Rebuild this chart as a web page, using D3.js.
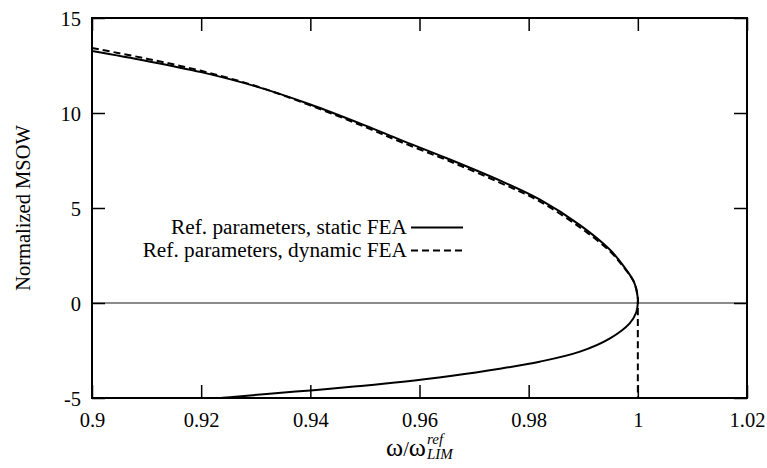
<!DOCTYPE html>
<html>
<head>
<meta charset="utf-8">
<script src="https://cdn.jsdelivr.net/npm/d3@7"></script>
<style>
body{margin:0;background:#fff}
</style>
</head>
<body>
<svg id="chart" width="767" height="468"></svg>
<script>
// static FEA, read along the curve from upper left round the nose to lower left
var staticX=[0.9,0.91,0.92,0.93,0.94,0.95,0.9564,0.965,0.9747,0.982,0.9894,0.9949,0.9975,0.9993,0.99995,1.0,0.9997,0.9985,0.9949,0.9894,0.982,0.9741,0.966,0.957,0.948,0.94,0.932,0.9247,0.9235]
var staticY=[13.26,12.74,12.15,11.4,10.45,9.35,8.6,7.62,6.45,5.45,4.1,2.8,1.9,1.1,0.35,0,-0.5,-1.07,-1.86,-2.56,-3.09,-3.49,-3.83,-4.15,-4.4,-4.6,-4.79,-4.97,-5.0]
// dynamic FEA: upper branch, then straight down at x=1
var dynX=[0.9,0.91,0.92,0.93,0.94,0.95,0.9564,0.965,0.9747,0.982,0.9894,0.9949,0.9975,0.9993,1.0,1.0,1.0]
var dynY=[13.42,12.86,12.22,11.42,10.4,9.27,8.5,7.52,6.34,5.35,3.98,2.72,1.85,1.1,0.3,0,-5]
var xTicks=[0.9,0.92,0.94,0.96,0.98,1.0,1.02]
var yTicks=[-5,0,5,10,15]
var seriesNames=["Ref. parameters, static FEA","Ref. parameters, dynamic FEA"]

var W=767,H=468
var m={l:92,t:18,r:20,b:70}
var FONT='"Liberation Serif","Times New Roman",Times,serif'
var fs=20.5
var svg=d3.select("#chart")
var x=d3.scaleLinear().domain([0.9,1.02]).range([m.l,W-m.r])
var y=d3.scaleLinear().domain([-5,15]).range([H-m.b,m.t])

// zero line
svg.append("line")
.attr("x1",x(0.9)).attr("x2",x(1.02))
.attr("y1",y(0)).attr("y2",y(0))
.attr("stroke","#666").attr("stroke-width",1.5)

var line=d3.line().x(d=>x(d[0])).y(d=>y(d[1])).curve(d3.curveCatmullRom)
var sPts=staticX.map((v,i)=>[v,staticY[i]])
var dPts=dynX.map((v,i)=>[v,dynY[i]])

svg.append("path").attr("d",line(sPts))
.attr("fill","none").attr("stroke","#000").attr("stroke-width",2)
svg.append("path").attr("d",line(dPts))
.attr("fill","none").attr("stroke","#000").attr("stroke-width",2)
.attr("stroke-dasharray","7,4")

// axes: ticks inward, mirrored on top/right
function styleAx(g){
	g.attr("font-family",FONT).attr("font-size",fs)
	g.select(".domain").remove()
	g.selectAll(".tick line").attr("stroke","#000").attr("stroke-width",1.5)
	g.selectAll("text").attr("fill","#000")
}
svg.append("g").attr("transform","translate(0,"+y(-5)+")")
.call(d3.axisBottom(x).tickValues(xTicks).tickSize(-13).tickPadding(14).tickFormat(d=>String(d)))
.call(styleAx)
svg.append("g").attr("transform","translate(0,"+y(15)+")")
.call(d3.axisTop(x).tickValues(xTicks).tickSize(-13).tickFormat(""))
.call(styleAx)
svg.append("g").attr("transform","translate("+x(0.9)+",0)")
.call(d3.axisLeft(y).tickValues(yTicks).tickSize(-13).tickPadding(11).tickFormat(d=>String(d)))
.call(styleAx)
.selectAll("text").attr("dy","0.36em")
svg.append("g").attr("transform","translate("+x(1.02)+",0)")
.call(d3.axisRight(y).tickValues(yTicks).tickSize(-13).tickFormat(""))
.call(styleAx)

svg.append("rect")
.attr("x",m.l).attr("y",m.t)
.attr("width",W-m.l-m.r).attr("height",H-m.t-m.b)
.attr("fill","none").attr("stroke","#000").attr("stroke-width",2)

// legend
var leg=svg.append("g").attr("font-family",FONT).attr("font-size",21.3)
leg.selectAll("text").data(seriesNames).enter().append("text")
.attr("x",407).attr("y",(d,i)=>233.5+i*23)
.attr("text-anchor","end")
.text(d=>d)
leg.selectAll("line").data(seriesNames).enter().append("line")
.attr("x1",411).attr("x2",463)
.attr("y1",(d,i)=>227.5+i*23).attr("y2",(d,i)=>227.5+i*23)
.attr("stroke","#000").attr("stroke-width",2)
.attr("stroke-dasharray",(d,i)=>i?"7,4":null)

// axis titles
var ttl=svg.append("g").attr("font-family",FONT).attr("font-size",fs)
var xl=ttl.append("text").attr("x",386).attr("y",456)
xl.append("tspan").attr("font-size",26).text("ω")
xl.append("tspan").text("/")
xl.append("tspan").attr("font-size",26).text("ω")
var xe=386+xl.node().getComputedTextLength()+1
ttl.append("text").attr("x",xe).attr("y",444).attr("font-size",15).attr("font-style","italic").text("ref")
ttl.append("text").attr("x",xe).attr("y",459).attr("font-size",15).attr("font-style","italic").text("LIM")

ttl.append("text")
.attr("transform","translate(29.5,"+(m.t+(H-m.t-m.b)/2)+") rotate(-90)")
.attr("text-anchor","middle")
.text("Normalized MSOW")
</script>
</body>
</html>
